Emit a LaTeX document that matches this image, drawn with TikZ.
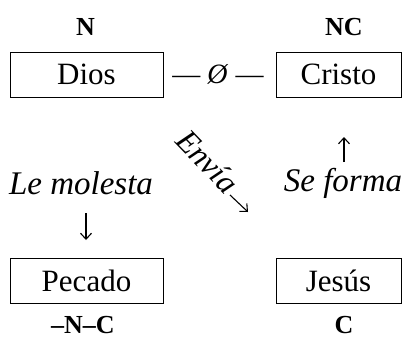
\documentclass[tikz,border=0pt]{standalone}
\usepackage{fontspec}
\setmainfont{Liberation Serif}
\usetikzlibrary{arrows.meta}
\begin{document}
\begin{tikzpicture}[x=1pt,y=-1pt,
  box/.style={draw,line width=1pt,minimum width=153pt,minimum height=45pt,inner sep=0pt,font=\fontsize{31}{34}\selectfont},
  lbl/.style={inner sep=0pt,font=\bfseries\fontsize{26}{29}\selectfont},
  itl/.style={inner sep=0pt,font=\itshape\fontsize{33}{36}\selectfont},
  glyph/.style={inner sep=0pt,font=\fontsize{28}{31}\selectfont},
  garrow/.style={line width=1.1pt,-{Straight Barb[length=6pt,width=11pt,line width=1.1pt]}}]
\useasboundingbox (0,0) rectangle (402,341);
\node[box] (dios) at (86.5,74.5) {Dios};
\node[box,minimum width=125pt] (cristo) at (338.5,74.5) {Cristo};
\node[box] (pecado) at (86.5,280.5) {Pecado};
\node[box,minimum width=125pt] (jesus) at (338.5,280.5) {Jesús};
\node[lbl] (n) at (85.5,27) {N};
\node[lbl] (nc) at (344,27) {NC};
\node[lbl] (nnc) at (83,325) {–N–C};
\node[lbl] (c) at (344,325) {C};
\node[glyph] (rel) at (218,74) {— \textit{Ø} —};
\node[itl] (molesta) at (81,183) {Le molesta};
\node[itl] (forma) at (343,183) {Se forma};
\node[itl,font=\itshape\fontsize{32}{35}\selectfont,rotate=-46,anchor=base west] (envia) at (174,142) {Envía};
\coordinate (dtop) at (86,213);
\coordinate (dbot) at (86,240);
\coordinate (ubot) at (344,162);
\coordinate (utop) at (344,137);
\coordinate (estart) at (230,195);
\coordinate (eend) at (248,212);
\draw[garrow] (dtop) -- (dbot);
\draw[garrow] (ubot) -- (utop);
\draw[garrow] (estart) -- (eend);
\end{tikzpicture}
\end{document}
